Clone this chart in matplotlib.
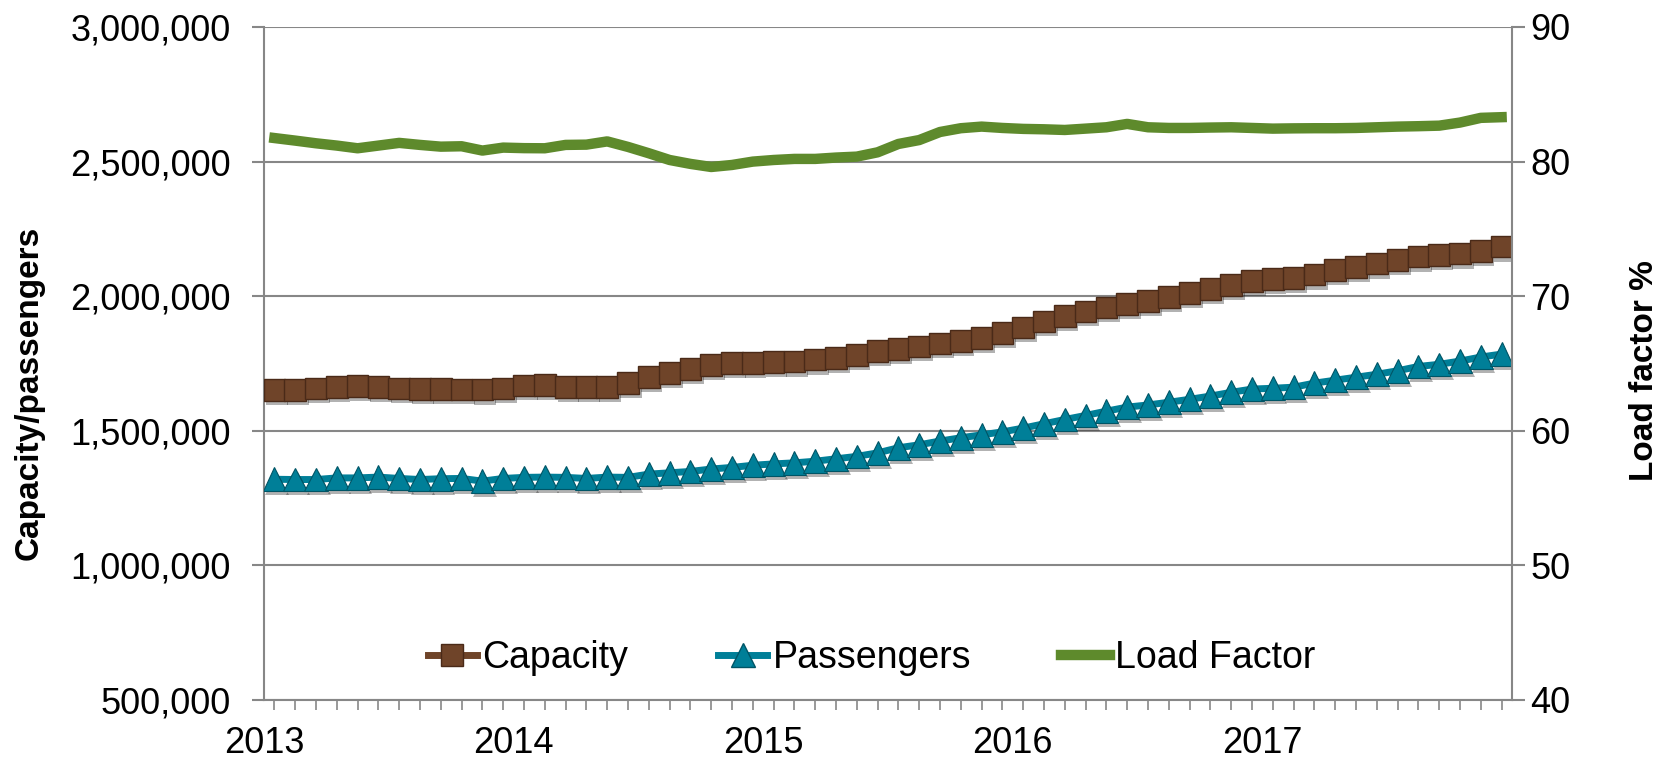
import matplotlib
matplotlib.use("Agg")
import matplotlib.pyplot as plt
import matplotlib.patheffects as pe
from matplotlib.lines import Line2D
from matplotlib.ticker import FuncFormatter, FixedLocator

plt.rcParams['font.family'] = ['Liberation Sans', 'DejaVu Sans']

# monthly data, Jan 2013 - Dec 2017
years = ['2013', '2014', '2015', '2016', '2017']

capacity = [1651000, 1652000, 1657000, 1662000, 1666000, 1662000, 1657000, 1656000, 1656000, 1654000,
            1653000, 1658000, 1669000, 1670000, 1663000, 1662000, 1662000, 1677000, 1699000, 1714000,
            1729000, 1744000, 1751000, 1751000, 1755000, 1757000, 1764000, 1771000, 1781000, 1796000,
            1803000, 1813000, 1825000, 1833000, 1844000, 1863000, 1884000, 1906000, 1927000, 1944000,
            1958000, 1971000, 1983000, 1997000, 2012000, 2026000, 2042000, 2056000, 2064000, 2068000,
            2080000, 2098000, 2109000, 2121000, 2134000, 2147000, 2153000, 2158000, 2168000, 2184000]

passengers = [1320000, 1319000, 1319000, 1325000, 1325000, 1328000, 1323000, 1319000, 1322000, 1323000,
              1313000, 1323000, 1327000, 1328000, 1327000, 1323000, 1328000, 1327000, 1339000, 1344000,
              1349000, 1358000, 1364000, 1372000, 1377000, 1381000, 1387000, 1396000, 1405000, 1418000,
              1437000, 1448000, 1462000, 1474000, 1485000, 1496000, 1510000, 1526000, 1542000, 1557000,
              1573000, 1588000, 1596000, 1606000, 1617000, 1629000, 1643000, 1655000, 1658000, 1662000,
              1677000, 1688000, 1699000, 1710000, 1723000, 1739000, 1747000, 1759000, 1774000, 1785000]

load_factor = [81.75, 81.56, 81.36, 81.19, 80.99, 81.19, 81.39, 81.24, 81.11, 81.14,
               80.82, 81.04, 81.00, 80.99, 81.24, 81.26, 81.50, 81.09, 80.62, 80.12,
               79.83, 79.60, 79.75, 80.00, 80.12, 80.20, 80.20, 80.30, 80.37, 80.69,
               81.31, 81.60, 82.20, 82.48, 82.60, 82.50, 82.43, 82.40, 82.35, 82.45,
               82.55, 82.80, 82.55, 82.50, 82.50, 82.53, 82.55, 82.50, 82.45, 82.47,
               82.48, 82.48, 82.50, 82.55, 82.60, 82.63, 82.67, 82.90, 83.25, 83.30]

x = [i + 0.5 for i in range(len(capacity))]

cap_col, cap_edge = '#6F4429', '#4A2A18'
pas_col, pas_edge = '#007F98', '#005566'
lf_col = '#5E8A2C'
grid_col = '#878787'

fig = plt.figure(figsize=(16.65, 7.72), dpi=100)
ax = fig.add_axes([264 / 1665, 72 / 772, 1248 / 1665, 673 / 772])

shadow = [pe.SimplePatchShadow(offset=(2, -3), alpha=0.3, shadow_rgbFace='k'), pe.Normal()]

# lines under the markers
ax.plot(x, capacity, color=cap_col, lw=5, zorder=3)
ax.plot(x, passengers, color=pas_col, lw=5, zorder=3)
ax.plot(x, capacity, ls='none', marker='s', ms=15.5, mfc=cap_col, mec=cap_edge, mew=1,
        zorder=4, path_effects=shadow)
ax.plot(x, passengers, ls='none', marker='^', ms=17, mfc=pas_col, mec=pas_edge, mew=0.8,
        zorder=4, path_effects=shadow)

ax.set_xlim(0, 60)
ax.set_ylim(500000, 3000000)
ax.set_yticks(range(500000, 3000001, 500000))
ax.yaxis.set_major_formatter(FuncFormatter(lambda v, p: f'{v:,.0f}'))
ax.grid(axis='y', color=grid_col, lw=1.5)
ax.set_axisbelow(True)

ax.set_xticks([0, 12, 24, 36, 48])
ax.set_xticklabels(years)
ax.xaxis.set_minor_locator(FixedLocator(x))
ax.tick_params(axis='x', which='major', length=0, pad=19, labelsize=26)
ax.tick_params(axis='x', which='minor', length=7, width=1.2, color=grid_col)
ax.tick_params(axis='y', length=9, width=1.5, color=grid_col, pad=15, labelsize=26)

for s in ['top', 'right']:
    ax.spines[s].set_visible(False)
for s in ['left', 'bottom']:
    ax.spines[s].set_color(grid_col)
    ax.spines[s].set_linewidth(1.5)

ax.set_ylabel('Capacity/passengers', fontsize=24, fontweight='bold')
ax.yaxis.set_label_coords(-0.176, 0.456)

ax2 = ax.twinx()
ax2.plot(x, load_factor, color=lf_col, lw=7.5, solid_joinstyle='round', zorder=3)
ax2.set_ylim(40, 90)
ax2.set_yticks(range(40, 91, 10))
ax2.tick_params(axis='y', length=9, width=1.5, color=grid_col, pad=4, labelsize=26)
for s in ['top', 'left', 'bottom']:
    ax2.spines[s].set_visible(False)
ax2.spines['right'].set_color(grid_col)
ax2.spines['right'].set_linewidth(1.5)
ax2.set_ylabel('Load factor %', fontsize=24, fontweight='bold')
ax2.yaxis.set_label_coords(1.094, 0.49)

handles = [
    Line2D([], [], color=cap_col, lw=5, marker='s', ms=15.5, mfc=cap_col, mec=cap_edge),
    Line2D([], [], color=pas_col, lw=5, marker='^', ms=17, mfc=pas_col, mec=pas_edge),
    Line2D([], [], color=lf_col, lw=7.5),
]
ax2.legend(handles, ['Capacity', 'Passengers', 'Load Factor'], loc='center',
           bbox_to_anchor=(0.487, 0.062), ncol=3, frameon=False, fontsize=27,
           handlelength=1.3, handletextpad=0.15, columnspacing=2.4, numpoints=1)

fig.savefig('out.png', dpi=100)
